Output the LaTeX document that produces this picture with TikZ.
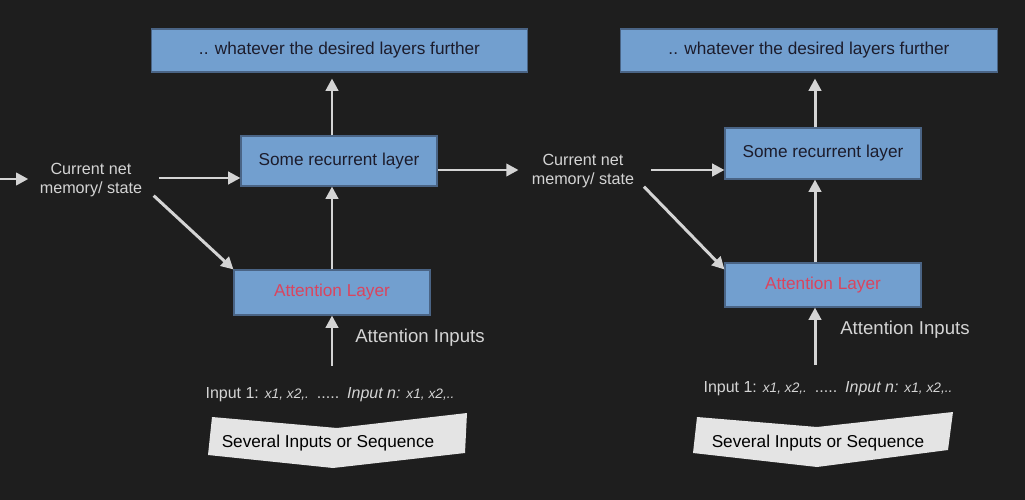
\documentclass[tikz,border=0pt]{standalone}
\usepackage{fontspec}
\setmainfont{Liberation Sans}
\usetikzlibrary{arrows.meta}
\definecolor{bg}{HTML}{1E1E1E}
\definecolor{boxblue}{HTML}{729FCF}
\definecolor{boxline}{HTML}{4A6485}
\definecolor{boxtext}{HTML}{1C1C2C}
\definecolor{attred}{HTML}{D9455F}
\definecolor{arrgrey}{HTML}{D4D4D4}
\definecolor{banfill}{HTML}{E4E4E4}
\tikzset{
  layerbox/.style={draw=boxline, fill=boxblue, text=boxtext, line width=0.6pt,
    font=\fontsize{9.8}{11}\selectfont, inner sep=0pt},
  flowarr/.style={draw=arrgrey, line width=1.7pt, -{Triangle[length=7pt,width=7pt]}},
  lighttext/.style={text=arrgrey, font=\fontsize{9.2}{10.4}\selectfont, align=center},
  bigtext/.style={text=arrgrey, font=\fontsize{10.6}{12}\selectfont},
  intext/.style={text=arrgrey, font=\fontsize{9.1}{10}\selectfont},
  bannertext/.style={text=black, font=\fontsize{9.8}{11}\selectfont}
}
\newcommand{\xs}[1]{{\itshape\fontsize{7.8}{9}\selectfont #1}}
\begin{document}
\begin{tikzpicture}[x=0.02cm, y=-0.02cm]
\useasboundingbox[fill=bg] (0,0) rectangle (1025,500);

% left column
\node[layerbox, minimum width=7.54cm, minimum height=0.86cm] (top1) at (339.5,50.5) {.. whatever the desired layers further};
\node[layerbox, minimum width=3.92cm, minimum height=1.0cm] (rec1) at (339,161) {Some recurrent layer};
\node[layerbox, minimum width=3.92cm, minimum height=0.9cm, text=attred] (att1) at (332,292.5) {Attention Layer};
\node[lighttext] (mem1) at (91,180) {Current net\\memory/ state};
\coordinate (in0) at (0,179);
\node[bigtext] (ai1) at (420,338) {Attention Inputs};
\node[intext] (in1) at (330,395) {Input 1: \xs{x1, x2,.}\enspace .....\enspace {\itshape Input n:} \xs{x1, x2,..}};
\fill[banfill] (212,417) -- (337,428) -- (467,413) -- (465,453) -- (333,468) -- (208,455) -- cycle;
\node[bannertext] (ban1) at (328,443) {Several Inputs or Sequence};

\draw[flowarr] (in0) -- ([xshift=-3pt]mem1.west |- in0);
\draw[flowarr] ([xshift=6pt]mem1.east |- 0,178) -- (rec1.west |- 0,178);
\draw[flowarr] ([shift={(3pt,4pt)}]mem1.south east) -- (att1.north west);
\draw[flowarr] (att1.north) -- (att1.north |- rec1.south);
\draw[flowarr] (att1.north |- rec1.north) -- ([yshift=-3.4pt]att1.north |- top1.south);
\draw[flowarr] ([yshift=9pt]att1.south |- in1.north) -- (att1.south);

% right column
\node[layerbox, minimum width=7.56cm, minimum height=0.86cm] (top2) at (809,50.5) {.. whatever the desired layers further};
\node[layerbox, minimum width=3.92cm, minimum height=1.02cm] (rec2) at (823,153.5) {Some recurrent layer};
\node[layerbox, minimum width=3.92cm, minimum height=0.88cm, text=attred] (att2) at (823,285) {Attention Layer};
\node[lighttext] (mem2) at (583,171) {Current net\\memory/ state};
\node[bigtext] (ai2) at (905,330) {Attention Inputs};
\node[intext] (in2) at (828,389) {Input 1: \xs{x1, x2,.}\enspace .....\enspace {\itshape Input n:} \xs{x1, x2,..}};
\fill[banfill] (697,417) -- (817,427) -- (953,412) -- (948,450) -- (817,467) -- (693,453) -- cycle;
\node[bannertext] (ban2) at (818,443) {Several Inputs or Sequence};
\coordinate (col2) at (815,0);

\draw[flowarr] (rec1.east |- 0,170) -- ([xshift=-4pt]mem2.west |- 0,170);
\draw[flowarr] ([xshift=6pt]mem2.east |- 0,170) -- (rec2.west |- 0,170);
\draw[flowarr] ([shift={(2pt,4pt)}]mem2.south east) -- ([yshift=-4pt]att2.north west);
\draw[flowarr] (col2 |- att2.north) -- (col2 |- rec2.south);
\draw[flowarr] (col2 |- rec2.north) -- ([yshift=-3.4pt]col2 |- top2.south);
\draw[flowarr] ([yshift=6pt]col2 |- in2.north) -- (col2 |- att2.south);
\end{tikzpicture}
\end{document}
